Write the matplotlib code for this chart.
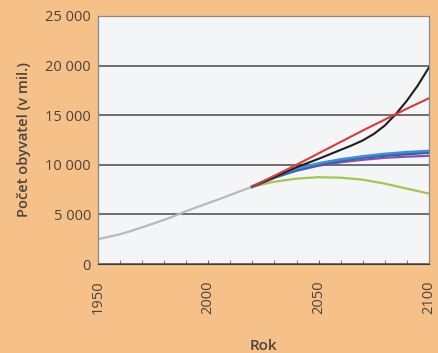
import numpy as np
import matplotlib.pyplot as plt
from matplotlib.ticker import MultipleLocator, FuncFormatter

plt.rcParams['font.family'] = ['Open Sans', 'DejaVu Sans']

# historical world population (mil.)
hist_years = [1950, 1955, 1960, 1965, 1970, 1975, 1980, 1985, 1990, 1995, 2000, 2005, 2010, 2015, 2020]
hist_pop = [2500, 2750, 3000, 3330, 3700, 4070, 4450, 4870, 5330, 5740, 6140, 6540, 6960, 7380, 7800]

# projections 2020-2100
proj_years = [2020, 2030, 2040, 2050, 2060, 2070, 2080, 2090, 2100]
proj_red = [7800, 8900, 10000, 11150, 12300, 13450, 14550, 15650, 16700]
proj_purple = [7800, 8700, 9400, 9900, 10250, 10500, 10700, 10820, 10900]
proj_blue = [7800, 8750, 9500, 10050, 10450, 10750, 10950, 11100, 11250]
proj_lightblue = [7800, 8800, 9600, 10150, 10550, 10850, 11100, 11280, 11400]
proj_green = [7800, 8300, 8600, 8750, 8700, 8500, 8100, 7600, 7100]

black_years = [2020, 2030, 2040, 2050, 2060, 2065, 2070, 2075, 2080, 2085, 2090, 2095, 2100]
proj_black = [7800, 8750, 9750, 10600, 11500, 11950, 12450, 13100, 13950, 15100, 16450, 18000, 19800]

bg = '#f6c089'
fig = plt.figure(figsize=(4.39, 3.53), dpi=100, facecolor=bg)
ax = fig.add_axes([0.223, 0.252, 0.754, 0.703])
ax.set_facecolor('#f4f5f7')

ax.plot(hist_years, hist_pop, color='#b9b9bb', lw=1.6)
ax.plot(proj_years, proj_green, color='#a0c84c', lw=1.6)
ax.plot(proj_years, proj_purple, color='#8a4fa0', lw=1.6)
ax.plot(proj_years, proj_blue, color='#2d5fb0', lw=2.2)
ax.plot(proj_years, proj_lightblue, color='#3a8fd8', lw=1.8)
ax.plot(black_years, proj_black, color='#1e1e1e', lw=1.5)
ax.plot(proj_years, proj_red, color='#db3b37', lw=1.5)

ax.set_xlim(1950, 2100)
ax.set_ylim(0, 25000)
ax.set_yticks([0, 5000, 10000, 15000, 20000, 25000])
ax.yaxis.set_major_formatter(FuncFormatter(lambda v, p: f'{int(v):,}'.replace(',', ' ')))
ax.set_xticks([1950, 2000, 2050, 2100])
ax.xaxis.set_minor_locator(MultipleLocator(10))
ax.grid(axis='y', color='#4a4a4a', lw=1.1)
ax.set_axisbelow(True)

ax.tick_params(axis='y', length=0, pad=5, labelsize=10.5, labelcolor='#4a443e')
ax.tick_params(axis='x', which='both', direction='in', length=3, color='#666666',
               labelsize=10.5, labelcolor='#4a443e', labelrotation=90, pad=12)

for s in ['left', 'right', 'top']:
    ax.spines[s].set_color('#8a8a8a')
    ax.spines[s].set_linewidth(0.9)
ax.spines['bottom'].set_color('#3a3a3a')

ax.set_xlabel('Rok', fontsize=11, fontweight='semibold', color='#4a443e', labelpad=18)
ax.set_ylabel('Počet obyvatel (v mil.)', fontsize=10.5, fontweight='semibold', color='#4a443e', labelpad=10)

fig.savefig('out.png', dpi=100, facecolor=bg)
